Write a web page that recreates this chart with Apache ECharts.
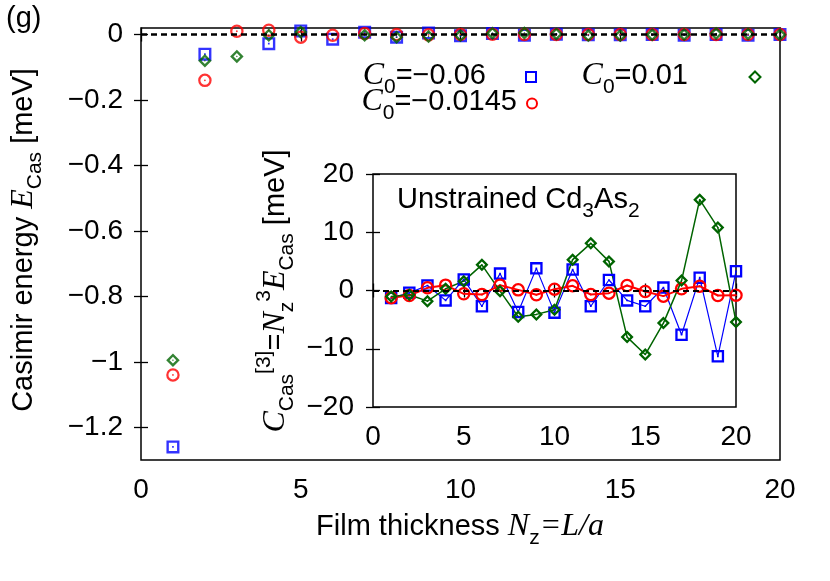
<!DOCTYPE html>
<html><head><meta charset="utf-8">
<script src="https://cdn.jsdelivr.net/npm/echarts@6/dist/echarts.min.js"></script>
<style>html,body{margin:0;padding:0;background:#fff}#c{width:830px;height:581px}</style>
</head><body><div id="c"></div>
<script>
// ---- data ----
const nz = [1,2,3,4,5,6,7,8,9,10,11,12,13,14,15,16,17,18,19,20];
// main panel: E_Cas [meV]
const mainBlue  = [-1.26,-0.06,0.03,-0.028,0.011,-0.014,0.007,-0.008,0.005,-0.004,0.003,-0.002,0.001,-0.001,-0.001,0.0,-0.002,0.0,-0.002,0.0];
const mainRed   = [-1.04,-0.14,0.010,0.013,-0.008,-0.002,0.003,0.0,-0.001,0.0,0.001,0.0,0.0,0.0,0.0,0.0,0.0,0.0,0.0,0.0];
const mainGreen = [-0.995,-0.08,-0.067,-0.002,0.008,0.021,-0.002,-0.008,-0.006,-0.003,0.004,0.005,0.002,-0.003,-0.003,-0.001,0.0,0.003,0.002,-0.001];
// inset: C_Cas^[3] [meV]
const insetBlue  = [-1.3,-0.4,0.86,-1.7,1.9,-2.7,2.9,-3.7,3.8,-3.8,3.6,-2.7,1.8,-1.7,-2.7,0.5,-7.6,2.2,-11.3,3.3];
const insetRed   = [-1.26,-0.86,0.46,0.92,-0.57,-0.69,0.92,0.11,-0.74,0.23,0.8,-0.69,-0.46,0.86,-0.17,-0.97,0.29,0.74,-0.86,-0.8];
const insetGreen = [-1.03,-0.74,-1.83,0.29,1.6,4.4,-0.11,-4.5,-4.1,-3.3,5.3,8.1,5.0,-8.0,-11.0,-5.6,1.7,15.6,10.8,-5.4];
const mainYTicks = [0,-0.2,-0.4,-0.6,-0.8,-1,-1.2];
const mainYTickLabels = ['0','\u22120.2','\u22120.4','\u22120.6','\u22120.8','\u22121','\u22121.2'];
const insetYTicks = [20,10,0,-10,-20];
const insetYTickLabels = ['20','10','0','\u221210','\u221220'];
const legendNames = ['\u22120.06','\u22120.0145','0.01'];

// ---- styles ----
const SANS = 'Liberation Sans', SERIF = 'Liberation Serif';
const BLUE = '#0000ff', RED = '#ff0000', GREEN = '#006400';
const SQ = 'path://M0 0H12V12H0Z M2.2 2.2V9.8H9.8V2.2Z M5.2 5.2H6.8V6.8H5.2Z';
const CI = 'path://M0 6A6 6 0 1 1 12 6A6 6 0 1 1 0 6Z M2 6A4 4 0 1 0 10 6A4 4 0 1 0 2 6Z M5.2 6A0.8 0.8 0 1 1 6.8 6A0.8 0.8 0 1 1 5.2 6Z';
const DI = 'path://M6 0L12 6L6 12L0 6Z M6 3L3 6L6 9L9 6Z M6 5.2L6.8 6L6 6.8L5.2 6Z';
const FT = 28;   // tick labels
const FS = 29;   // other text
const pairs = a => nz.map((n, i) => [n, a[i]]);
const lab = (ticks, labels) => v => { const i = ticks.findIndex(t => Math.abs(t - v) < 1e-9); return i >= 0 ? labels[i] : ''; };

const tickStyle = {show: true, inside: true, length: 7, lineStyle: {color: '#000', width: 1.3}};
const axLabel = {color: '#000', fontSize: FT, fontFamily: SANS};

const RICH = {
  it:  {fontFamily: SERIF, fontStyle: 'italic', fontSize: 32, lineHeight: 44, color: '#000'},
  sub: {fontFamily: SANS, fontSize: 21, lineHeight: 21, verticalAlign: 'bottom', color: '#000'},
  sup: {fontFamily: SANS, fontSize: 21, lineHeight: 21, verticalAlign: 'top', color: '#000'}
};
function txt(text, x, y, align, rot) {
  return {type: 'text', x: x, y: y, rotation: rot || 0, silent: true, z: 100,
    style: {text: text, rich: RICH, fontFamily: SANS, fontSize: FS, lineHeight: 44, fill: '#000',
      align: align, textAlign: align, verticalAlign: 'middle', textVerticalAlign: 'middle'}};
}

const zeroLine = w => ({silent: true, symbol: ['none','none'], label: {show: false}, animation: false,
  lineStyle: {color: '#000', type: [6, 4], width: w}, data: [{yAxis: 0}]});

const option = {
  animation: false,
  backgroundColor: '#fff',
  grid: [
    {left: 141, top: 28, width: 639, height: 432, show: true, borderColor: '#000', borderWidth: 1.5, backgroundColor: 'transparent'},
    {left: 373, top: 174, width: 363, height: 233, show: true, borderColor: '#000', borderWidth: 1.5, backgroundColor: 'transparent'}
  ],
  xAxis: [
    {gridIndex: 0, type: 'value', min: 0, max: 20, interval: 5, axisLine: {show: false}, axisTick: tickStyle, splitLine: {show: false},
      axisLabel: Object.assign({margin: 16}, axLabel)},
    {gridIndex: 0, type: 'value', position: 'top', min: 0, max: 20, interval: 5, axisLine: {show: false}, axisTick: tickStyle, splitLine: {show: false}, axisLabel: {show: false}},
    {gridIndex: 1, type: 'value', min: 0, max: 20, interval: 5, axisLine: {show: false}, axisTick: tickStyle, splitLine: {show: false},
      axisLabel: Object.assign({margin: 16}, axLabel)},
    {gridIndex: 1, type: 'value', position: 'top', min: 0, max: 20, interval: 5, axisLine: {show: false}, axisTick: tickStyle, splitLine: {show: false}, axisLabel: {show: false}}
  ],
  yAxis: [
    {gridIndex: 0, type: 'value', min: -1.3, max: 0.02, axisLine: {show: false}, splitLine: {show: false},
      axisTick: Object.assign({customValues: mainYTicks}, tickStyle),
      axisLabel: Object.assign({margin: 18, customValues: mainYTicks, formatter: lab(mainYTicks, mainYTickLabels)}, axLabel)},
    {gridIndex: 0, type: 'value', position: 'right', min: -1.3, max: 0.02, axisLine: {show: false}, splitLine: {show: false},
      axisTick: Object.assign({customValues: mainYTicks}, tickStyle), axisLabel: {show: false, customValues: mainYTicks}},
    {gridIndex: 1, type: 'value', min: -20, max: 20, interval: 10, axisLine: {show: false}, splitLine: {show: false}, axisTick: tickStyle,
      axisLabel: Object.assign({margin: 19, formatter: lab(insetYTicks, insetYTickLabels)}, axLabel)},
    {gridIndex: 1, type: 'value', position: 'right', min: -20, max: 20, interval: 10, axisLine: {show: false}, splitLine: {show: false}, axisTick: tickStyle, axisLabel: {show: false}}
  ],
  series: [
    {name: legendNames[0], type: 'scatter', xAxisIndex: 0, yAxisIndex: 0, data: pairs(mainBlue), symbol: SQ, symbolSize: 13,
      itemStyle: {color: BLUE}, clip: true, markLine: zeroLine(2.5), emphasis: {disabled: true}},
    {name: legendNames[1], type: 'scatter', xAxisIndex: 0, yAxisIndex: 0, data: pairs(mainRed), symbol: CI, symbolSize: 13.5,
      itemStyle: {color: RED}, clip: true, emphasis: {disabled: true}},
    {name: legendNames[2], type: 'scatter', xAxisIndex: 0, yAxisIndex: 0, data: pairs(mainGreen), symbol: DI, symbolSize: 13.5,
      itemStyle: {color: GREEN}, clip: true, emphasis: {disabled: true}},
    {type: 'line', xAxisIndex: 2, yAxisIndex: 2, data: pairs(insetBlue), symbol: SQ, symbolSize: 12.5, showSymbol: true,
      itemStyle: {color: BLUE}, lineStyle: {color: BLUE, width: 1.2}, markLine: zeroLine(2), emphasis: {disabled: true}},
    {type: 'line', xAxisIndex: 2, yAxisIndex: 2, data: pairs(insetRed), symbol: CI, symbolSize: 13.5, showSymbol: true,
      itemStyle: {color: RED}, lineStyle: {color: RED, width: 2}, emphasis: {disabled: true}},
    {type: 'line', xAxisIndex: 2, yAxisIndex: 2, data: pairs(insetGreen), symbol: DI, symbolSize: 13, showSymbol: true,
      itemStyle: {color: GREEN}, lineStyle: {color: GREEN, width: 1.5}, emphasis: {disabled: true}}
  ],
  graphic: [
    txt('(g)', 6, 19, 'left'),
    txt('Casimir energy {it|E}{sub|Cas} [meV]', 24, 240, 'center', Math.PI / 2),
    txt('Film thickness {it|N}{sub|z}{it|=L/a}', 460, 527, 'center'),
    txt('{it|C}{sub|Cas}{sup|[3]}={it|N}{sub|z}{sup|3}{it|E}{sub|Cas} [meV]', 276, 291, 'center', Math.PI / 2),
    txt('Unstrained Cd{sub|3}As{sub|2}', 397, 200, 'left'),
    txt('{it|C}{sub|0}=' + legendNames[0], 486, 76, 'right'),
    txt('{it|C}{sub|0}=' + legendNames[1], 517, 102, 'right'),
    txt('{it|C}{sub|0}=' + legendNames[2], 688, 76, 'right'),
    {type: 'rect', silent: true, shape: {x: 526, y: 72, width: 10, height: 10}, style: {fill: 'none', stroke: BLUE, lineWidth: 2}},
    {type: 'circle', silent: true, shape: {cx: 532, cy: 103.5, r: 5}, style: {fill: 'none', stroke: RED, lineWidth: 2}},
    {type: 'polygon', silent: true, shape: {points: [[755, 71.5], [760.5, 77], [755, 82.5], [749.5, 77]]}, style: {fill: 'none', stroke: GREEN, lineWidth: 2}}
  ]
};
const chart = echarts.init(document.getElementById('c'), null, {renderer: 'canvas'});
chart.setOption(option);
</script>
</body></html>
